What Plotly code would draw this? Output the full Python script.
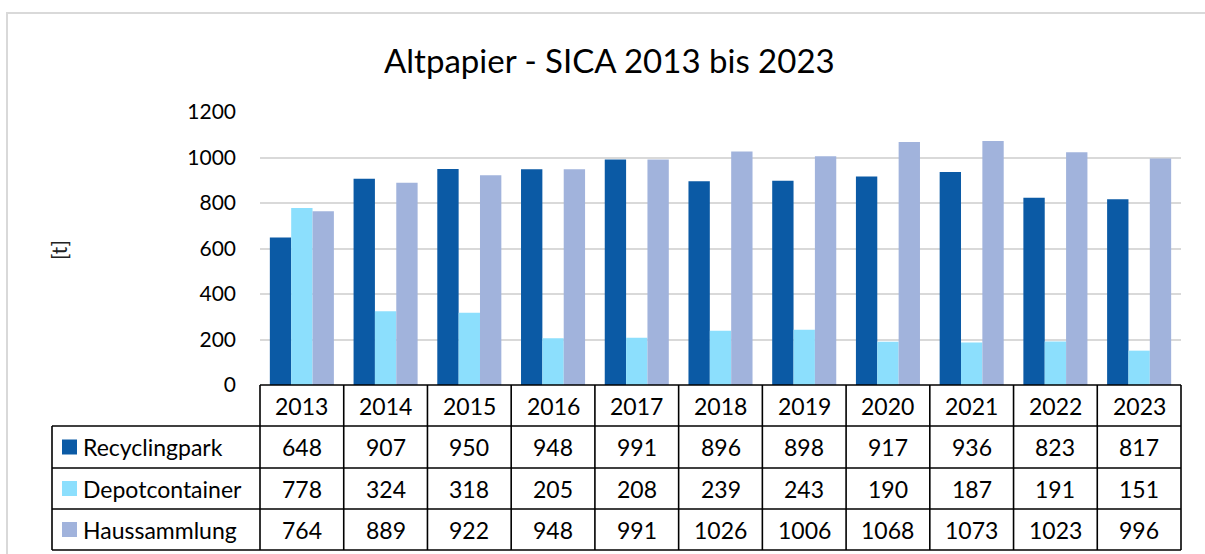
import plotly.graph_objects as go

years = ["2013", "2014", "2015", "2016", "2017", "2018", "2019", "2020", "2021", "2022", "2023"]
recyclingpark = [648, 907, 950, 948, 991, 896, 898, 917, 936, 823, 817]
depotcontainer = [778, 324, 318, 205, 208, 239, 243, 190, 187, 191, 151]
haussammlung = [764, 889, 922, 948, 991, 1026, 1006, 1068, 1073, 1023, 996]
series_names = ["Recyclingpark", "Depotcontainer", "Haussammlung"]
y_ticks = [0, 200, 400, 600, 800, 1000, 1200]
title_text = "Altpapier - SICA 2013 bis 2023"
y_title = "[t]"

colors = ["#0B5AA5", "#8CDFFD", "#A1B3DC"]
FONT = "Lato"

W, H = 1205, 554
L, R, T, B = 260, 1181, 112, 385


def px(x):
    return (x - L) / (R - L)


def py(y):
    return (B - y) / (B - T)


series = [recyclingpark, depotcontainer, haussammlung]
fig = go.Figure()
for name, vals, c in zip(series_names, series, colors):
    fig.add_trace(go.Bar(x=years, y=vals, name=name, marker=dict(color=c, line=dict(width=0)),
                         hoverinfo="skip"))

shapes = []
annotations = []
# outer frame
shapes.append(dict(type="rect", xref="paper", yref="paper", x0=px(7), x1=px(1230), y0=py(13), y1=py(580),
                   line=dict(color="#D9D9D9", width=2), layer="below"))

rows = [385, 426, 468, 509, 550]
ncol = len(years)
colw = (R - L) / ncol
black = dict(color="black", width=1.6)
# horizontal lines
shapes.append(dict(type="line", xref="paper", yref="paper", x0=px(L), x1=px(R), y0=py(rows[0]), y1=py(rows[0]), line=black))
for yy in rows[1:]:
    shapes.append(dict(type="line", xref="paper", yref="paper", x0=px(52), x1=px(R), y0=py(yy), y1=py(yy), line=black))
# vertical lines
shapes.append(dict(type="line", xref="paper", yref="paper", x0=px(52), x1=px(52), y0=py(rows[1]), y1=py(rows[-1]), line=black))
for k in range(ncol + 1):
    xx = L + k * colw
    shapes.append(dict(type="line", xref="paper", yref="paper", x0=px(xx), x1=px(xx), y0=py(rows[0]), y1=py(rows[-1]), line=black))

tfont = dict(family=FONT, size=23, color="black")
for k, yr in enumerate(years):
    cx = L + (k + 0.5) * colw
    annotations.append(dict(xref="paper", yref="paper", x=px(cx), y=py((rows[0] + rows[1]) / 2), text=yr,
                            showarrow=False, font=tfont, xanchor="center", yanchor="middle"))
for r, (name, vals, c) in enumerate(zip(series_names, series, colors)):
    cy = (rows[r + 1] + rows[r + 2]) / 2
    shapes.append(dict(type="rect", xref="paper", yref="paper", x0=px(62), x1=px(77), y0=py(cy - 7.5), y1=py(cy + 7.5),
                       line=dict(width=0), fillcolor=c))
    annotations.append(dict(xref="paper", yref="paper", x=px(81), y=py(cy), text=name, showarrow=False,
                            font=tfont, xanchor="left", yanchor="middle"))
    for k, v in enumerate(vals):
        cx = L + (k + 0.5) * colw
        annotations.append(dict(xref="paper", yref="paper", x=px(cx), y=py(cy), text=str(v), showarrow=False,
                                font=tfont, xanchor="center", yanchor="middle"))

annotations.append(dict(xref="paper", yref="paper", x=px(58), y=py(250), text=y_title, textangle=-90,
                        showarrow=False, font=dict(family=FONT, size=21, color="#222222"),
                        xanchor="center", yanchor="middle"))
annotations.append(dict(xref="paper", yref="paper", x=px(609), y=py(60), text=title_text, showarrow=False,
                        font=dict(family=FONT, size=33, color="black"), xanchor="center", yanchor="middle"))

fig.update_layout(
    width=W, height=H,
    margin=dict(l=L, r=W - R, t=T, b=H - B, pad=0),
    paper_bgcolor="white", plot_bgcolor="white",
    barmode="group", bargap=0.235, bargroupgap=0,
    showlegend=False,
    xaxis=dict(showticklabels=False, showgrid=False, zeroline=False, showline=False, ticks=""),
    yaxis=dict(range=[0, 1200], tickvals=y_ticks, showgrid=True, gridcolor="#D9D9D9", gridwidth=1.5,
               zeroline=False, showline=False, ticks="", ticklabelstandoff=23,
               tickfont=dict(family=FONT, size=21, color="black")),
    shapes=shapes, annotations=annotations,
)
fig.write_html("out.html", config={"displayModeBar": False},
               post_script="document.body.style.margin='0px';")
